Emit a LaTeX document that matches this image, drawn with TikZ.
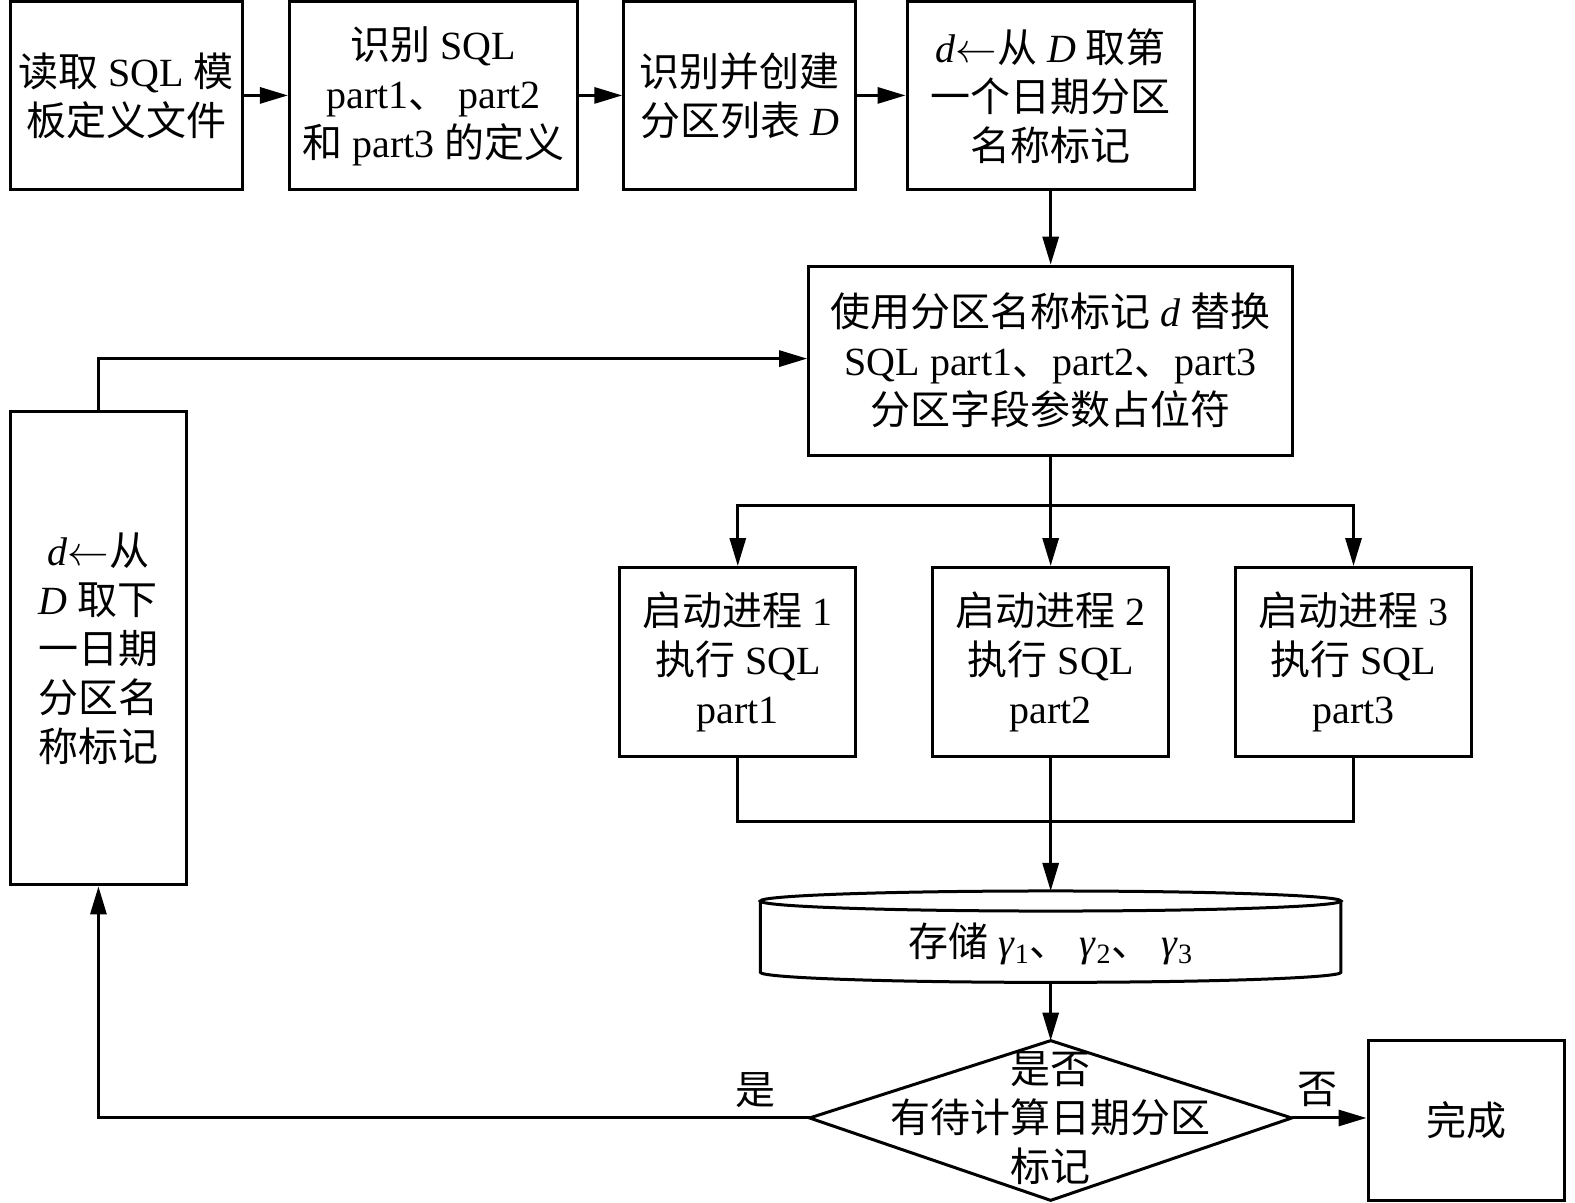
\documentclass[tikz,border=0pt]{standalone}
\usepackage{fontspec}
\setmainfont{Liberation Serif}
\newfontfamily\cjkfont{Noto Sans CJK SC}
\newcommand\zh[1]{{\cjkfont #1}}
\usetikzlibrary{arrows.meta}
\begin{document}
\begin{tikzpicture}[x=0.50223pt,y=-0.50223pt,
  line width=1.5pt,
  box/.style={draw,line width=1.5pt,align=center,inner sep=0pt,font=\fontsize{20pt}{24.5pt}\selectfont},
  txt/.style={align=center,inner sep=0pt,font=\fontsize{20pt}{24.5pt}\selectfont},
  arr/.style={-{Triangle[length=14pt,width=8pt]}}]
\useasboundingbox (0,0) rectangle (1568,1197);
% top row
\node[box,minimum width=116pt,minimum height=94pt] (A) at (125.5,95.5)
  {\zh{读取} SQL \zh{模}\\\zh{板定义文件}};
\node[box,minimum width=144pt,minimum height=94pt] (B) at (431.5,95.5)
  {\zh{识别} SQL\\part1\zh{、} part2\\\zh{和} part3 \zh{的定义}};
\node[box,minimum width=116pt,minimum height=94pt] (C) at (736.5,95.5)
  {\zh{识别并创建}\\\zh{分区列表} \textit{D}};
\node[box,minimum width=143.6pt,minimum height=94pt] (D) at (1046,95.5)
  {\textit{d}$\leftarrow$\zh{从} \textit{D} \zh{取第}\\\zh{一个日期分区}\\\zh{名称标记}};
\node[box,minimum width=242pt,minimum height=94.4pt] (E) at (1046,359)
  {\zh{使用分区名称标记} \textit{d} \zh{替换}\\SQL part1\zh{、}part2\zh{、}part3\\\zh{分区字段参数占位符}};
% processes
\node[box,minimum width=118pt,minimum height=94.4pt] (P1) at (734.5,659)
  {\zh{启动进程} 1\\\zh{执行} SQL\\part1};
\node[box,minimum width=118pt,minimum height=94.4pt] (P2) at (1046,659)
  {\zh{启动进程} 2\\\zh{执行} SQL\\part2};
\node[box,minimum width=118pt,minimum height=94.4pt] (P3) at (1347.5,659)
  {\zh{启动进程} 3\\\zh{执行} SQL\\part3};
% left box
\node[box,minimum width=88.4pt,minimum height=236.5pt] (L) at (98,645.5)
  {\textit{d}$\leftarrow$\zh{从}\\\textit{D} \zh{取下}\\\zh{一日期}\\\zh{分区名}\\\zh{称标记}};
% storage cylinder
\coordinate (Stop) at (1046,887);
\coordinate (Sbot) at (1046,978);
\draw[line width=1.5pt] (757,897) -- (757,968) arc[start angle=180,end angle=0,x radius=289,y radius=10] -- (1335,897);
\draw[line width=1.5pt] (1046,897) ellipse [x radius=289,y radius=10];
\node[txt] (S) at (1046,940) {\zh{存储} \textit{γ}\textsubscript{1}\zh{、} \textit{γ}\textsubscript{2}\zh{、} \textit{γ}\textsubscript{3}};
% decision diamond
\coordinate (Dt) at (1046,1036);
\coordinate (Db) at (1046,1195);
\coordinate (Dl) at (806,1113);
\coordinate (Dr) at (1286,1113);
\draw[line width=1.5pt] (Dt) -- (Dr) -- (Db) -- (Dl) -- cycle;
\node[txt] (Q) at (1046,1113) {\zh{是否}\\\zh{有待计算日期分区}\\\zh{标记}};
\node[box,minimum width=98pt,minimum height=80pt] (F) at (1459.5,1115.5) {\zh{完成}};
% labels
\node[txt] (yes) at (752,1085) {\zh{是}};
\node[txt] (no) at (1312,1085) {\zh{否}};
% connectors
\draw[arr] (A.east |- 0,95) -- (B.west |- 0,95);
\draw[arr] (B.east |- 0,95) -- (C.west |- 0,95);
\draw[arr] (C.east |- 0,95) -- (D.west |- 0,95);
\draw[arr] (D.south) -- (E.north);
\coordinate (split) at (1046,503);
\draw (E.south) -- (split);
\draw[arr] (split) -| (P1.north);
\draw[arr] (split) -| (P3.north);
\draw[arr] (split) -- (P2.north);
\coordinate (join) at (1046,818);
\draw (P1.south) |- (join);
\draw (P3.south) |- (join);
\draw[arr] (P2.south) -- (Stop);
\draw[arr] (Sbot) -- (Dt);
\draw[arr] (Dl) -| (L.south);
\draw[arr] (L.north) |- (E.west |- 0,357);
\draw[arr] (Dr) -- (F.west |- Dr);
\end{tikzpicture}
\end{document}
